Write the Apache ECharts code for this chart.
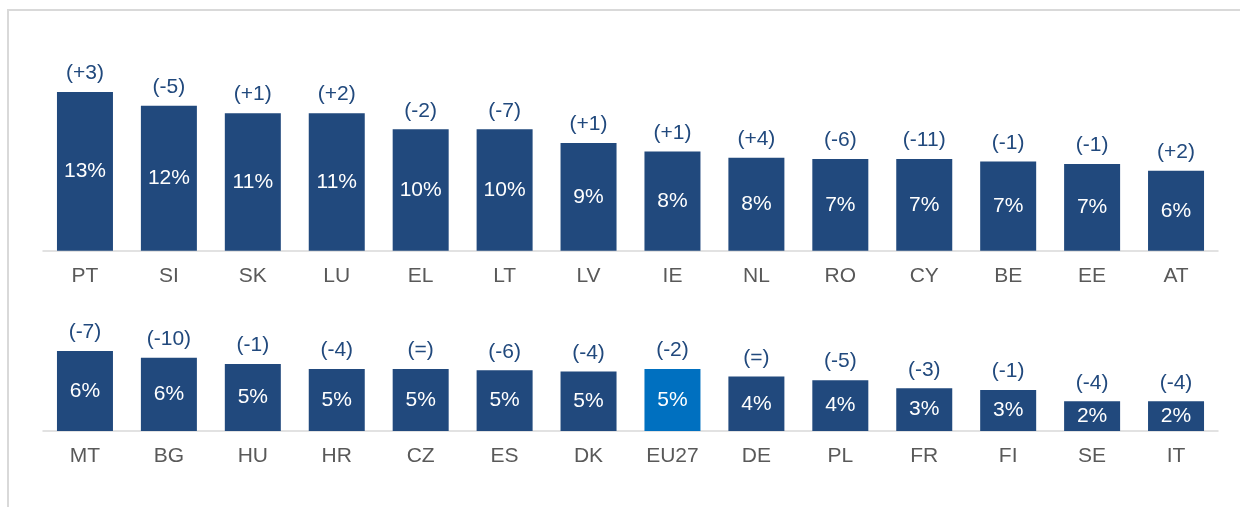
<!DOCTYPE html>
<html>
<head>
<meta charset="utf-8">
<script src="https://cdn.jsdelivr.net/npm/echarts@6/dist/echarts.min.js"></script>
<style>
  html, body { margin: 0; padding: 0; background: #fff; overflow: hidden; }
  #frame { position: absolute; left: 7px; top: 9px; width: 1240px; height: 510px;
           border-left: 2px solid #d9d9d9; border-top: 2px solid #d9d9d9; }
  #chart { position: absolute; left: 0; top: 0; width: 1240px; height: 507px; }
</style>
</head>
<body>
<div id="frame"></div>
<div id="chart"></div>
<script>
/* ---- data: top row ---- */
var topCountries = ["PT", "SI", "SK", "LU", "EL", "LT", "LV", "IE", "NL", "RO", "CY", "BE", "EE", "AT"];
var topShares    = [12.8, 11.7, 11.1, 11.1, 9.8, 9.8, 8.7, 8.0, 7.5, 7.4, 7.4, 7.2, 7.0, 6.45];
var topChanges   = ["+3", "-5", "+1", "+2", "-2", "-7", "+1", "+1", "+4", "-6", "-11", "-1", "-1", "+2"];

/* ---- data: bottom row ---- */
var bottomCountries = ["MT", "BG", "HU", "HR", "CZ", "ES", "DK", "EU27", "DE", "PL", "FR", "FI", "SE", "IT"];
var bottomShares    = [6.45, 5.9, 5.4, 5.0, 5.0, 4.9, 4.8, 5.0, 4.4, 4.1, 3.45, 3.3, 2.4, 2.4];
var bottomChanges   = ["-7", "-10", "-1", "-4", "=", "-6", "-4", "-2", "=", "-5", "-3", "-1", "-4", "-4"];

var highlightCountry = "EU27";

// ---- colours ----
var BAR_COLOR  = "#21497d";
var EU_COLOR   = "#0070c0";
var DIFF_COLOR = "#21497d";
var CAT_COLOR  = "#595959";
var FONT       = "'Liberation Sans', Arial, sans-serif";
var FONT_SIZE  = 21;
var PX_PER_PCT = 12.4;   // vertical scale shared by both rows

function buildBars(countries, shares) {
  return shares.map(function(v, i) {
    return {
      value: v,
      itemStyle: { color: countries[i] === highlightCountry ? EU_COLOR : BAR_COLOR }
    };
  });
}

function xAxisFor(idx, countries) {
  return {
    type: "category",
    gridIndex: idx,
    data: countries,
    axisLine: { lineStyle: { color: "#d9d9d9", width: 1.5 } },
    axisTick: { show: false },
    axisLabel: { color: CAT_COLOR, fontSize: FONT_SIZE, fontFamily: FONT, margin: 15, interval: 0 }
  };
}

function yAxisFor(idx, max) {
  return { type: "value", gridIndex: idx, min: 0, max: max, show: false, splitLine: { show: false } };
}

function shareSeries(idx, countries, shares) {
  return {
    type: "bar",
    xAxisIndex: idx, yAxisIndex: idx,
    barWidth: 56,
    barGap: "-100%",
    data: buildBars(countries, shares),
    label: {
      show: true, position: "inside", color: "#fff", fontSize: FONT_SIZE, fontFamily: FONT,
      formatter: function(p) { return Math.round(p.value) + "%"; }
    },
    silent: true
  };
}

// invisible twin of the bars, only carries the "(+n)" change label on top
function changeSeries(idx, shares, changes) {
  return {
    type: "bar",
    xAxisIndex: idx, yAxisIndex: idx,
    barWidth: 56,
    barGap: "-100%",
    data: shares,
    itemStyle: { color: "rgba(0,0,0,0)" },
    label: {
      show: true, position: "top", distance: 8, color: DIFF_COLOR, fontSize: FONT_SIZE, fontFamily: FONT,
      formatter: function(p) { return "(" + changes[p.dataIndex] + ")"; }
    },
    silent: true
  };
}

var topMax = 17, bottomMax = 8;
var topAxisY = 250.8, bottomAxisY = 431;

var chart = echarts.init(document.getElementById("chart"), null, { renderer: "canvas" });
chart.setOption({
  animation: false,
  grid: [
    { left: 43, right: 22, top: topAxisY - topMax * PX_PER_PCT, height: topMax * PX_PER_PCT },
    { left: 43, right: 22, top: bottomAxisY - bottomMax * PX_PER_PCT, height: bottomMax * PX_PER_PCT }
  ],
  xAxis: [xAxisFor(0, topCountries), xAxisFor(1, bottomCountries)],
  yAxis: [yAxisFor(0, topMax), yAxisFor(1, bottomMax)],
  series: [
    shareSeries(0, topCountries, topShares),
    changeSeries(0, topShares, topChanges),
    shareSeries(1, bottomCountries, bottomShares),
    changeSeries(1, bottomShares, bottomChanges)
  ]
});
</script>
</body>
</html>
